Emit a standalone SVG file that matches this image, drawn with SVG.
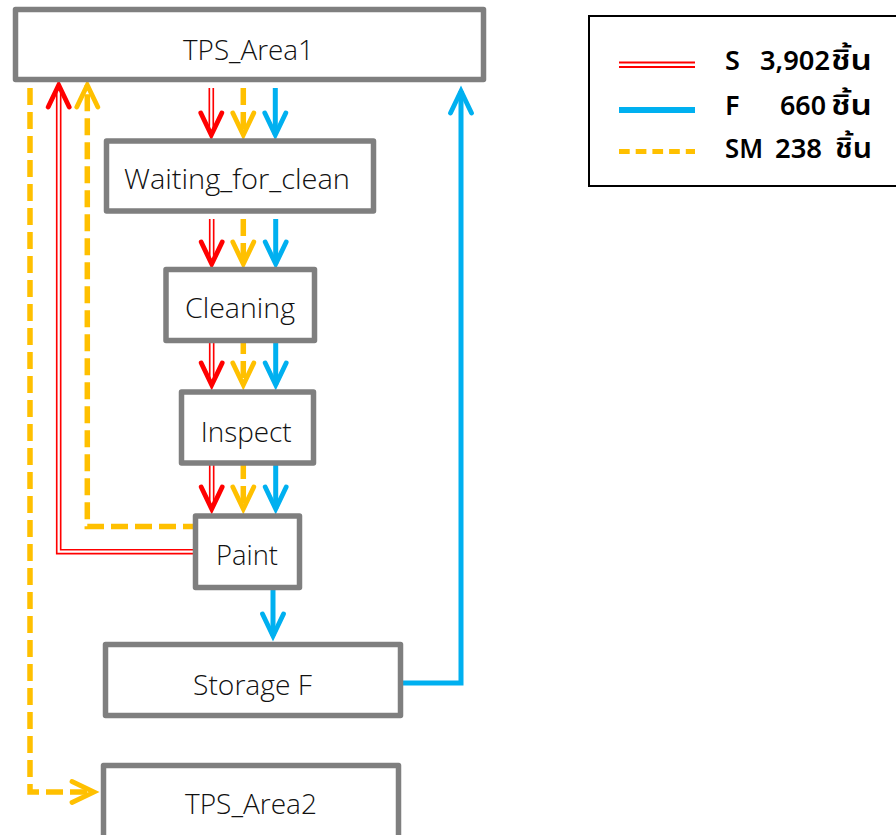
<svg xmlns="http://www.w3.org/2000/svg" width="896" height="835" viewBox="0 0 896 835">
<style>
.box{fill:#fff;stroke:#7f7f7f;stroke-width:5.5;stroke-linejoin:round}
.lbl{font-family:"Open Sans","Noto Sans","Liberation Sans",sans-serif;font-size:28px;font-weight:300;fill:#111;text-anchor:middle}
.leg{font-family:"Noto Sans","Noto Sans Thai","Liberation Sans",sans-serif;font-size:27px;font-weight:600;fill:#000}
.th{font-size:29px}
.redo{fill:none;stroke:#ff0000;stroke-width:5.6;stroke-linejoin:miter}
.redi{fill:none;stroke:#fff;stroke-width:2.3;stroke-linejoin:miter}
.yel{fill:none;stroke:#ffc000;stroke-width:5.5;stroke-dasharray:17 7}
.blu{fill:none;stroke:#00b0f0;stroke-width:5;stroke-linejoin:miter}
.hr{stroke:#ff0000}
.hy{stroke:#ffc000}
.hb{stroke:#00b0f0}
</style>
<defs>
<path id="ah" d="M-10.5,-22 L0,0 L10.5,-22" fill="none" stroke-width="4.8" stroke-linecap="round" stroke-linejoin="miter"/>
</defs>

<g id="connectors">
  <!-- row 1: TPS_Area1 -> Waiting -->
  <path class="redo" d="M211.3,88 V130"/><path class="redi" d="M211.3,88 V130"/>
  <use href="#ah" class="hr" transform="translate(211.3,135)"/>
  <path class="yel" d="M243.3,88 V135"/>
  <use href="#ah" class="hy" transform="translate(243.3,135)"/>
  <path class="blu" d="M275.3,88 V135"/>
  <use href="#ah" class="hb" transform="translate(275.3,135)"/>

  <!-- row 2: Waiting -> Cleaning -->
  <path class="redo" d="M211.7,219 V259"/><path class="redi" d="M211.7,219 V259"/>
  <use href="#ah" class="hr" transform="translate(211.7,264)"/>
  <path class="yel" d="M243.3,219 V264"/>
  <use href="#ah" class="hy" transform="translate(243.3,264)"/>
  <path class="blu" d="M275.7,219 V264"/>
  <use href="#ah" class="hb" transform="translate(275.7,264)"/>

  <!-- row 3: Cleaning -> Inspect -->
  <path class="redo" d="M211.7,340 V380"/><path class="redi" d="M211.7,340 V380"/>
  <use href="#ah" class="hr" transform="translate(211.7,385)"/>
  <path class="yel" d="M243.3,337 V385"/>
  <use href="#ah" class="hy" transform="translate(243.3,385)"/>
  <path class="blu" d="M275.7,340 V385"/>
  <use href="#ah" class="hb" transform="translate(275.7,385)"/>

  <!-- row 4: Inspect -> Paint -->
  <path class="redo" d="M211.7,463 V504"/><path class="redi" d="M211.7,463 V504"/>
  <use href="#ah" class="hr" transform="translate(211.7,509)"/>
  <path class="yel" d="M243.3,462 V509"/>
  <use href="#ah" class="hy" transform="translate(243.3,509)"/>
  <path class="blu" d="M275.7,463 V509"/>
  <use href="#ah" class="hb" transform="translate(275.7,509)"/>

  <!-- Paint -> Storage F -->
  <path class="blu" d="M273,588 V636"/>
  <use href="#ah" class="hb" transform="translate(273,636)"/>

  <!-- Storage F -> TPS_Area1 -->
  <path class="blu" d="M401,683 H461 V91"/>
  <use href="#ah" class="hb" transform="translate(461,91) rotate(180)"/>

  <!-- Paint -> TPS_Area1 (S, red double) -->
  <path class="redo" d="M196,551.7 H58.7 V92"/><path class="redi" d="M198,551.7 H58.7 V92"/>
  <use href="#ah" class="hr" transform="translate(58.7,85) rotate(180)"/>

  <!-- Paint -> TPS_Area1 (SM, yellow) -->
  <path class="yel" d="M196,526.5 H87.3 V85" style="stroke-dashoffset:4"/>
  <use href="#ah" class="hy" transform="translate(87.3,85) rotate(180)"/>

  <!-- TPS_Area1 -> TPS_Area2 (SM, yellow) -->
  <path class="yel" d="M30,88 V792 H94"/>
  <use href="#ah" class="hy" transform="translate(94,792) rotate(-90)"/>
</g>

<g id="TPS_Area1">
  <rect class="box" x="15.5" y="9.5" width="468" height="70"/>
  <text class="lbl" x="248.5" y="59.5" textLength="131" lengthAdjust="spacingAndGlyphs">TPS_Area1</text>
</g>
<g id="Waiting_for_clean">
  <rect class="box" x="106.5" y="141" width="267" height="70"/>
  <text class="lbl" x="237" y="188.5" textLength="226" lengthAdjust="spacingAndGlyphs">Waiting_for_clean</text>
</g>
<g id="Cleaning">
  <rect class="box" x="166" y="269.5" width="148.5" height="71"/>
  <text class="lbl" x="240" y="318" textLength="110" lengthAdjust="spacingAndGlyphs">Cleaning</text>
</g>
<g id="Inspect">
  <rect class="box" x="181.5" y="392" width="132" height="71"/>
  <text class="lbl" x="246.2" y="441.5" textLength="91" lengthAdjust="spacingAndGlyphs">Inspect</text>
</g>
<g id="Paint">
  <rect class="box" x="195.5" y="516" width="104" height="71.5"/>
  <text class="lbl" x="247" y="565" textLength="62" lengthAdjust="spacingAndGlyphs">Paint</text>
</g>
<g id="Storage_F">
  <rect class="box" x="105.5" y="644.5" width="295" height="71"/>
  <text class="lbl" x="252.5" y="695" textLength="119" lengthAdjust="spacingAndGlyphs">Storage F</text>
</g>
<g id="TPS_Area2">
  <rect class="box" x="103.5" y="765.5" width="295" height="80"/>
  <text class="lbl" x="251" y="814" textLength="132" lengthAdjust="spacingAndGlyphs">TPS_Area2</text>
</g>

<g id="legend">
  <rect x="589" y="16" width="312" height="170" fill="#fff" stroke="#000" stroke-width="2"/>
  <line x1="619" y1="62.5" x2="695" y2="62.5" stroke="#ff0000" stroke-width="1.8"/>
  <line x1="619" y1="67" x2="695" y2="67" stroke="#ff0000" stroke-width="1.8"/>
  <line x1="619" y1="110" x2="695" y2="110" stroke="#00b0f0" stroke-width="6"/>
  <line x1="619" y1="151.5" x2="695" y2="151.5" stroke="#ffc000" stroke-width="5" stroke-dasharray="10.7 6"/>
  <text class="leg" x="725" y="70">S</text>
  <text class="leg" x="760" y="70" textLength="70" lengthAdjust="spacingAndGlyphs">3,902</text>
  <text class="leg th" x="831" y="70" textLength="41" lengthAdjust="spacingAndGlyphs">ชิ้น</text>
  <text class="leg" x="725" y="115">F</text>
  <text class="leg" x="780" y="115" textLength="46" lengthAdjust="spacingAndGlyphs">660</text>
  <text class="leg th" x="831" y="115" textLength="41" lengthAdjust="spacingAndGlyphs">ชิ้น</text>
  <text class="leg" x="725" y="158" textLength="38" lengthAdjust="spacingAndGlyphs">SM</text>
  <text class="leg" x="775" y="158" textLength="47" lengthAdjust="spacingAndGlyphs">238</text>
  <text class="leg th" x="835" y="158" textLength="37" lengthAdjust="spacingAndGlyphs">ชิ้น</text>
</g>
</svg>
